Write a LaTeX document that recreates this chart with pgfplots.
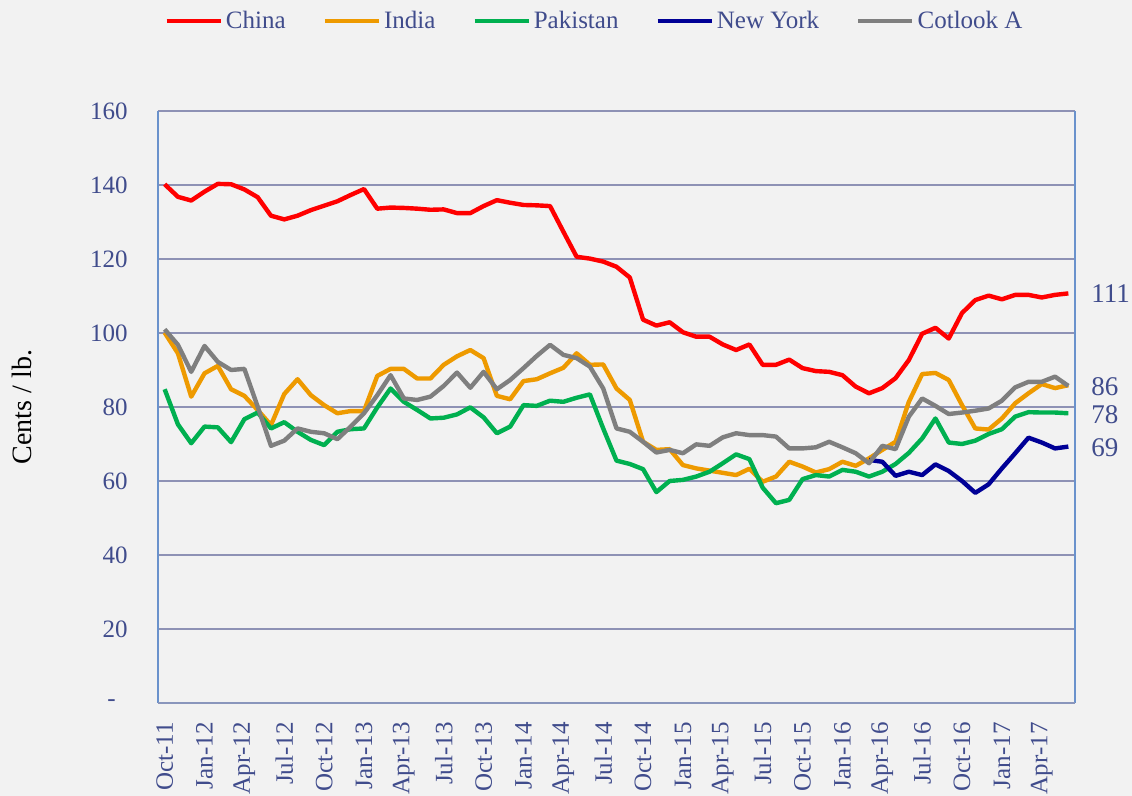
\documentclass[border=0pt]{standalone}
\usepackage{fontspec}
\setmainfont{Liberation Serif}
\usepackage{pgfplots}
\pgfplotsset{compat=1.18}
\usepackage{pgfplotstable}
\definecolor{bg}{HTML}{F2F2F2}
\definecolor{txt}{HTML}{404C8C}
\definecolor{gridc}{HTML}{8E92B5}
\definecolor{axc}{HTML}{6A92CC}
\definecolor{botc}{HTML}{8A96BC}
\definecolor{cchina}{HTML}{FF0000}
\definecolor{cindia}{HTML}{EE9A00}
\definecolor{cpak}{HTML}{00B050}
\definecolor{cny}{HTML}{000096}
\definecolor{ccot}{HTML}{7F7F7F}

\pgfplotstableread{
i china india pak cot
0 140.2 100.1 84.8 101.0
1 136.8 94.5 75.3 96.8
2 135.8 82.8 70.2 89.5
3 138.2 89.1 74.7 96.5
4 140.3 91.1 74.5 92.2
5 140.2 84.8 70.5 90.0
6 138.8 83.0 76.7 90.3
7 136.7 79.2 78.5 80.1
8 131.7 75.1 74.2 69.5
9 130.7 83.5 75.9 70.9
10 131.7 87.5 73.3 74.2
11 133.2 83.2 71.1 73.3
12 134.4 80.5 69.7 72.9
13 135.6 78.3 73.3 71.3
14 137.3 78.9 74.0 74.7
15 138.9 78.9 74.2 78.3
16 133.6 88.4 79.9 83.2
17 133.9 90.3 85.0 88.6
18 133.8 90.3 81.4 82.3
19 133.6 87.7 79.2 81.9
20 133.3 87.7 76.9 82.8
21 133.4 91.4 77.1 85.7
22 132.4 93.7 78.0 89.3
23 132.4 95.4 79.9 85.2
24 134.3 93.2 77.2 89.5
25 135.9 83.0 72.9 84.8
26 135.2 82.1 74.7 87.3
27 134.6 87.0 80.5 90.5
28 134.5 87.5 80.3 93.8
29 134.3 89.1 81.7 96.8
30 127.4 90.6 81.4 94.1
31 120.6 94.5 82.5 93.2
32 120.1 91.4 83.4 90.9
33 119.3 91.5 74.2 85.0
34 117.9 85.0 65.5 74.2
35 115.0 81.9 64.6 73.3
36 103.6 70.6 63.2 70.6
37 102.0 68.4 57.0 67.7
38 102.9 68.6 60.0 68.4
39 100.2 64.3 60.3 67.5
40 99.0 63.4 61.2 69.9
41 99.0 62.8 62.5 69.5
42 96.9 62.2 64.8 71.8
43 95.4 61.6 67.2 72.9
44 96.9 63.3 65.9 72.4
45 91.4 59.8 58.2 72.4
46 91.4 61.2 54.0 72.0
47 92.8 65.2 54.9 68.8
48 90.5 63.9 60.5 68.8
49 89.7 62.3 61.6 69.1
50 89.5 63.2 61.2 70.6
51 88.6 65.2 63.0 69.1
52 85.5 64.1 62.5 67.5
53 83.7 66.1 61.2 64.8
54 85.1 68.4 62.5 69.5
55 87.8 70.6 64.6 68.6
56 92.7 81.4 67.6 77.4
57 99.8 88.9 71.5 82.3
58 101.4 89.2 76.9 80.3
59 98.5 87.3 70.4 78.1
60 105.4 80.5 70.0 78.5
61 108.9 74.2 70.9 79.0
62 110.1 73.9 72.7 79.6
63 109.1 76.9 74.0 81.7
64 110.3 81.0 77.4 85.3
65 110.3 83.7 78.6 86.8
66 109.6 86.2 78.5 86.8
67 110.3 85.1 78.5 88.2
68 110.7 85.9 78.3 85.7
}\main

\pgfplotstableread{
i ny
53 65.7
54 65.2
55 61.4
56 62.5
57 61.6
58 64.5
59 62.7
60 60.0
61 56.8
62 59.1
63 63.4
64 67.5
65 71.7
66 70.4
67 68.8
68 69.3
}\ny

\begin{document}
\begin{tikzpicture}
\fill[bg] (-79pt,-46.5pt) rectangle (487pt,351.5pt);
\path[use as bounding box] (-79pt,-46.5pt) rectangle (487pt,351.5pt);
\begin{axis}[
  at={(0,0)}, anchor=south west,
  scale only axis, width=458.5pt, height=296pt,
  xmin=-0.5, xmax=68.5, ymin=0, ymax=160,
  clip=false,
  axis line style={draw=none},
  major tick length=0pt,
  ytick={0,20,...,160},
  yticklabels={{-\hspace*{6pt}},20,40,60,80,100,120,140,160},
  xtick={0,3,...,66},
  xticklabels={Oct-11,Jan-12,Apr-12,Jul-12,Oct-12,Jan-13,Apr-13,Jul-13,Oct-13,Jan-14,Apr-14,Jul-14,Oct-14,Jan-15,Apr-15,Jul-15,Oct-15,Jan-16,Apr-16,Jul-16,Oct-16,Jan-17,Apr-17},
  /pgf/number format/assume math mode=true,
  ticklabel style={font=\fontsize{12.5}{14}\selectfont, text=txt},
  yticklabel style={anchor=east, inner sep=0pt, xshift=-15pt},
  xticklabel style={rotate=90, anchor=east, inner sep=0pt},
  xticklabel shift=9.5pt,
  ymajorgrids,
  grid style={gridc, line width=1pt},
  ylabel={Cents / lb.},
  every axis y label/.style={at={(axis description cs:-0.148,0.5)}, rotate=90, anchor=center, font=\fontsize{14}{16}\selectfont, text=black},
  legend columns=5,
  legend style={at={(axis description cs:0.4766,1.152)}, anchor=center, draw=none, fill=none,
    font=\fontsize{12.5}{14}\selectfont, text=txt,
    nodes={inner sep=1.5pt},
    /tikz/every even column/.append style={column sep=17pt}},
  legend image code/.code={\draw[#1] (0pt,0pt) -- (27pt,0pt);},
  every axis plot/.append style={line width=2.2pt, line join=round},
]
\addplot[cchina] table[x=i, y=china] {\main};
\addlegendentry{China}
\addplot[cindia] table[x=i, y=india] {\main};
\addlegendentry{India}
\addplot[cpak] table[x=i, y=pak] {\main};
\addlegendentry{Pakistan}
\addplot[cny] table[x=i, y=ny] {\ny};
\addlegendentry{New York}
\addplot[ccot] table[x=i, y=cot] {\main};
\addlegendentry{Cotlook A}
\draw[axc, line width=1pt] (rel axis cs:0,0) -- (rel axis cs:0,1);
\draw[axc, line width=1pt] (rel axis cs:1,0) -- (rel axis cs:1,1);
\draw[botc, line width=1pt] (rel axis cs:0,0) -- (rel axis cs:1,0);
\node[anchor=west, text=txt, font=\fontsize{13.5}{15}\selectfont, xshift=8pt] at (axis cs:68,110.7) {111};
\node[anchor=west, text=txt, font=\fontsize{13.5}{15}\selectfont, xshift=8pt] at (axis cs:68,85.5) {86};
\node[anchor=west, text=txt, font=\fontsize{13.5}{15}\selectfont, xshift=8pt] at (axis cs:68,77.8) {78};
\node[anchor=west, text=txt, font=\fontsize{13.5}{15}\selectfont, xshift=8pt] at (axis cs:68,69.0) {69};
\end{axis}
\end{tikzpicture}
\end{document}
